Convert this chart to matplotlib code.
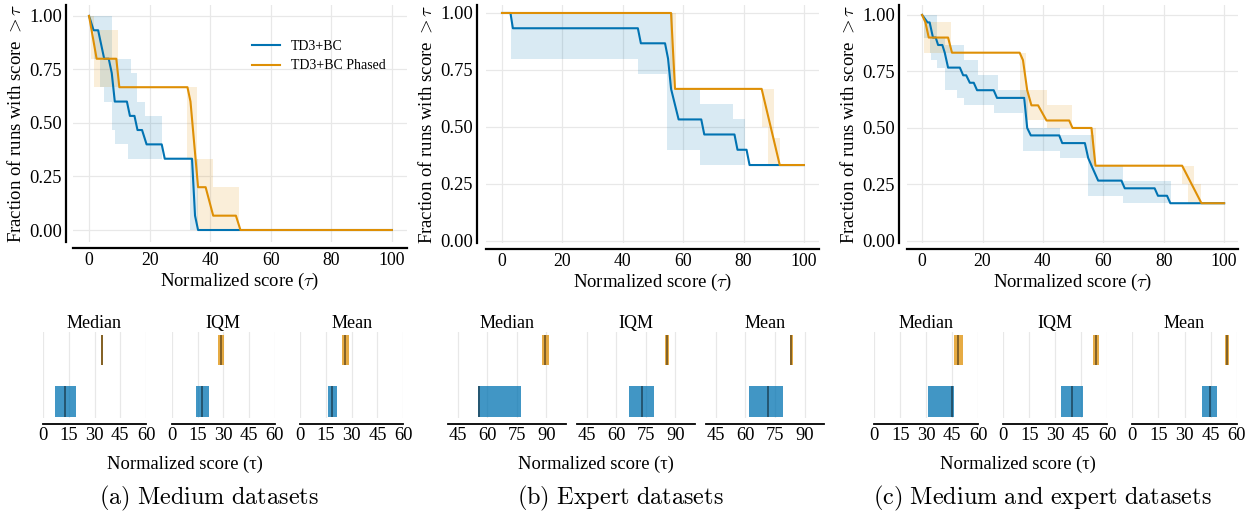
import matplotlib
matplotlib.use('Agg')
import matplotlib.pyplot as plt

plt.rcParams['font.family'] = ['Liberation Serif', 'DejaVu Serif']
plt.rcParams['mathtext.fontset'] = 'cm'

BLUE = '#0173B2'
ORANGE = '#DE8F05'
ALGOS = ['TD3+BC', 'TD3+BC Phased']

# ---------------- performance profiles (vertices) -------------
# (a) Medium datasets
med_td3_x = [0, 1.5, 3, 5, 6.5, 7.5, 8.5, 12.5, 13.5, 15, 16, 17.5, 19, 24, 25, 34, 35, 36, 100]
med_td3_y = [1.0, 0.933, 0.933, 0.8, 0.8, 0.733, 0.6, 0.6, 0.533, 0.533, 0.467, 0.467,
             0.4, 0.4, 0.333, 0.333, 0.067, 0.0, 0.0]
med_td3_band_x = [0.5, 1.5, 3.5, 5.0, 7.5, 8.5, 13.0, 14.0, 16.0, 18.5, 24.0, 33.5, 36.0]
med_td3_band_lo = [0.933, 0.8, 0.667, 0.6, 0.467, 0.4, 0.333, 0.333, 0.333, 0.333, 0.333, 0.0, 0.0]
med_td3_band_hi = [1.0, 1.0, 1.0, 1.0, 0.8, 0.8, 0.8, 0.733, 0.6, 0.533, 0.333, 0.333, 0.0]

med_ph_x = [0, 2.5, 9, 10, 32.5, 33.5, 36, 38.5, 41, 48.5, 50, 100]
med_ph_y = [1.0, 0.8, 0.8, 0.667, 0.667, 0.6, 0.2, 0.2, 0.067, 0.067, 0.0, 0.0]
med_ph_band_x = [0.5, 1.5, 9.5, 32.5, 35.5, 41.0, 49.5]
med_ph_band_lo = [0.8, 0.667, 0.667, 0.333, 0.0, 0.0, 0.0]
med_ph_band_hi = [1.0, 0.933, 0.667, 0.667, 0.333, 0.2, 0.0]

# (b) Expert datasets
exp_td3_x = [0, 2.8, 3.6, 45, 46, 54, 55, 56, 58.5, 66, 67, 77, 78, 81, 82, 100]
exp_td3_y = [1.0, 1.0, 0.933, 0.933, 0.867, 0.867, 0.8, 0.667, 0.533, 0.533, 0.467, 0.467,
             0.4, 0.4, 0.333, 0.333]
exp_td3_band_x = [3.0, 45.0, 54.5, 56.5, 65.5, 76.5, 80.5]
exp_td3_band_lo = [0.8, 0.733, 0.4, 0.4, 0.333, 0.333, 0.333]
exp_td3_band_hi = [1.0, 1.0, 1.0, 0.667, 0.6, 0.533, 0.333]

exp_ph_x = [0, 56, 57.3, 86, 92, 100]
exp_ph_y = [1.0, 1.0, 0.667, 0.667, 0.333, 0.333]
exp_ph_band_x = [55.5, 57.5, 86.0, 88.0, 90.0, 92.0]
exp_ph_band_lo = [0.667, 0.667, 0.5, 0.333, 0.333, 0.333]
exp_ph_band_hi = [1.0, 0.667, 0.667, 0.667, 0.45, 0.333]

# (c) Medium and expert datasets
all_td3_x = [0, 1.8, 2.5, 3.6, 4.5, 5.3, 6.7, 7.5, 8.6, 12.5, 13.6, 14.6, 15.8, 17.1, 18.2,
             23.7, 24.8, 33.8, 34.8, 36, 45.4, 46.4, 53.9, 55, 56.1, 58.3, 66, 67.1, 77,
             78.1, 81.1, 82.2, 100]
all_td3_y = [1.0, 0.967, 0.967, 0.9, 0.9, 0.867, 0.867, 0.833, 0.767, 0.767, 0.733, 0.733,
             0.7, 0.7, 0.667, 0.667, 0.633, 0.633, 0.5, 0.467, 0.467, 0.433, 0.433, 0.367,
             0.333, 0.267, 0.267, 0.233, 0.233, 0.2, 0.2, 0.167, 0.167]
all_td3_band_x = [0.5, 2.5, 3.0, 5.0, 7.5, 11.5, 14.0, 18.5, 23.7, 25.0, 33.5, 35.0, 45.5,
                  55.0, 57.0, 66.5, 82.5]
all_td3_band_lo = [0.9, 0.833, 0.8, 0.767, 0.667, 0.633, 0.6, 0.6, 0.567, 0.567, 0.4, 0.4,
                   0.367, 0.2, 0.2, 0.167, 0.167]
all_td3_band_hi = [1.0, 1.0, 1.0, 0.9, 0.867, 0.867, 0.8, 0.733, 0.733, 0.667, 0.667, 0.5,
                   0.467, 0.467, 0.333, 0.267, 0.167]

all_ph_x = [0, 1.1, 2.2, 8.6, 9.9, 32.3, 33.4, 34.8, 36.2, 38.4, 41.2, 48.7, 49.8, 56.1,
            57.4, 86.1, 92.5, 100]
all_ph_y = [1.0, 0.967, 0.9, 0.9, 0.833, 0.833, 0.8, 0.667, 0.6, 0.6, 0.533, 0.533, 0.5,
            0.5, 0.333, 0.333, 0.167, 0.167]
all_ph_band_x = [0.5, 9.5, 32.5, 34.5, 41.5, 49.5, 55.5, 57.5, 86.0, 88.0, 90.0, 92.5]
all_ph_band_lo = [0.833, 0.833, 0.633, 0.533, 0.5, 0.5, 0.333, 0.333, 0.25, 0.167, 0.167, 0.167]
all_ph_band_hi = [0.967, 0.833, 0.833, 0.667, 0.6, 0.5, 0.5, 0.333, 0.333, 0.333, 0.25, 0.167]

profile_xticks = [0, 20, 40, 60, 80, 100]
profile_yticks = [0.0, 0.25, 0.5, 0.75, 1.0]

# ---------------- aggregate interval estimates ----------------
metrics = ['Median', 'IQM', 'Mean']
med_td3_pt = [12.8, 17.8, 18.6]
med_td3_lo = [7.0, 14.1, 16.1]
med_td3_hi = [19.2, 21.7, 21.5]
med_ph_pt = [34.5, 28.5, 26.3]
med_ph_lo = [33.8, 27.1, 24.2]
med_ph_hi = [35.0, 30.2, 28.5]

exp_td3_pt = [56.0, 73.3, 71.4]
exp_td3_lo = [55.4, 66.6, 62.0]
exp_td3_hi = [77.4, 79.0, 78.9]
exp_ph_pt = [89.3, 85.8, 83.3]
exp_ph_lo = [87.6, 85.0, 82.6]
exp_ph_hi = [91.2, 86.7, 84.0]

all_td3_pt = [44.8, 39.8, 44.8]
all_td3_lo = [30.8, 33.3, 40.0]
all_td3_hi = [46.0, 45.8, 48.5]
all_ph_pt = [48.5, 53.3, 54.3]
all_ph_lo = [46.0, 51.8, 53.3]
all_ph_hi = [51.2, 55.2, 55.4]

ticks_0_60 = [0, 15, 30, 45, 60]
ticks_45_90 = [45, 60, 75, 90]

captions = ['(a) Medium datasets', '(b) Expert datasets', '(c) Medium and expert datasets']

# ---------------- figure ----------------
W, H = 1247, 516
fig = plt.figure(figsize=(W / 100, H / 100), dpi=100)


def add_ax(x0, y0, x1, y1):
    return fig.add_axes([x0 / W, 1 - y1 / H, (x1 - x0) / W, (y1 - y0) / H])


def px2pt(p):
    return p * 72 / 100


def top_panel(box, xlim, ylim, loff, boff, series, legend=False):
    ax = add_ax(*box)
    for x, y, bx, blo, bhi, color, label in series:
        ax.fill_between(bx, blo, bhi, step='post', color=color, alpha=0.15, lw=0)
    for x, y, bx, blo, bhi, color, label in series:
        ax.plot(x, y, color=color, lw=1.5, label=label)
    ax.set_xlim(*xlim)
    ax.set_ylim(*ylim)
    ax.set_xticks(profile_xticks)
    ax.set_yticks(profile_yticks)
    ax.set_yticklabels(['%.2f' % v for v in profile_yticks])
    ax.grid(True, color='#e8e8e8', lw=0.9)
    ax.set_axisbelow(True)
    for s in ['top', 'right']:
        ax.spines[s].set_visible(False)
    ax.spines['left'].set_position(('outward', px2pt(loff)))
    ax.spines['bottom'].set_position(('outward', px2pt(boff)))
    for s in ['left', 'bottom']:
        ax.spines[s].set_linewidth(1.6)
        ax.spines[s].set_color('black')
    ax.tick_params(axis='x', length=0, labelsize=12.8, pad=3)
    ax.tick_params(axis='y', length=0, labelsize=13.3, pad=3)
    ax.set_xlabel(r'Normalized score ($\tau$)', fontsize=13.5, labelpad=1)
    ax.set_ylabel(r'Fraction of runs with score $>\tau$', fontsize=13.5, labelpad=3)
    if legend:
        ax.legend(loc='upper left', bbox_to_anchor=(0.52, 0.875), frameon=False,
                  fontsize=10, handlelength=2.0, handletextpad=0.8, labelspacing=0.45,
                  borderaxespad=0)
    return ax


top_panel((73, 5, 407, 242), (-5.3, 105), (-0.056, 1.051), 7, 6, [
    (med_td3_x, med_td3_y, med_td3_band_x, med_td3_band_lo, med_td3_band_hi, BLUE, ALGOS[0]),
    (med_ph_x, med_ph_y, med_ph_band_x, med_ph_band_lo, med_ph_band_hi, ORANGE, ALGOS[1]),
], legend=True)
top_panel((486, 5, 819, 243), (-5.3, 105), (-0.009, 1.035), 9, 6, [
    (exp_td3_x, exp_td3_y, exp_td3_band_x, exp_td3_band_lo, exp_td3_band_hi, BLUE, ALGOS[0]),
    (exp_ph_x, exp_ph_y, exp_ph_band_x, exp_ph_band_lo, exp_ph_band_hi, ORANGE, ALGOS[1]),
])
top_panel((907, 5, 1238, 243), (-5.0, 104.6), (-0.009, 1.044), 8, 6, [
    (all_td3_x, all_td3_y, all_td3_band_x, all_td3_band_lo, all_td3_band_hi, BLUE, ALGOS[0]),
    (all_ph_x, all_ph_y, all_ph_band_x, all_ph_band_lo, all_ph_band_hi, ORANGE, ALGOS[1]),
])


def interval_panel(x0, x1, xlim, ticks, i, td3, ph):
    ax = add_ax(x0, 332, x1, 418)
    for yy, (pt, lo, hi), color in [(0, td3, BLUE), (1, ph, ORANGE)]:
        ax.barh(yy, width=hi[i] - lo[i], left=lo[i], height=0.6, color=color, alpha=0.75, lw=0)
        ax.vlines(pt[i], yy - 0.3, yy + 0.3, color='k', alpha=0.5, lw=1.2)
    ax.set_xlim(*xlim)
    ax.set_ylim(-0.32, 1.35)
    ax.set_xticks(ticks)
    ax.set_yticks([])
    ax.grid(True, axis='x', color='#e8e8e8', lw=0.9)
    ax.set_axisbelow(True)
    for s in ['top', 'right', 'left']:
        ax.spines[s].set_visible(False)
    ax.spines['bottom'].set_position(('outward', px2pt(6)))
    ax.spines['bottom'].set_linewidth(1.3)
    ax.tick_params(length=0, labelsize=13.3, pad=2)
    ax.set_title(metrics[i], fontsize=13, pad=3)
    return ax


med_td3 = (med_td3_pt, med_td3_lo, med_td3_hi)
med_ph = (med_ph_pt, med_ph_lo, med_ph_hi)
exp_td3 = (exp_td3_pt, exp_td3_lo, exp_td3_hi)
exp_ph = (exp_ph_pt, exp_ph_lo, exp_ph_hi)
all_td3 = (all_td3_pt, all_td3_lo, all_td3_hi)
all_ph = (all_ph_pt, all_ph_lo, all_ph_hi)

for i, (a, b) in enumerate([(43, 146), (171.7, 275), (300, 403.3)]):
    interval_panel(a, b, (0, 60), ticks_0_60, i, med_td3, med_ph)
for i, (a, b) in enumerate([(447.7, 566), (576.7, 695), (705.7, 824.3)]):
    interval_panel(a, b, (40, 100), ticks_45_90, i, exp_td3, exp_ph)
for i, (a, b) in enumerate([(874.3, 978.3), (1003.3, 1107.3), (1132.3, 1236.7)]):
    interval_panel(a, b, (0, 60), ticks_0_60, i, all_td3, all_ph)

for cx in [185, 596, 1018]:
    fig.text(cx / W, 1 - 464 / H, 'Normalized score (τ)', ha='center', va='center', fontsize=13.3)

for cx, cap in zip([209, 620, 1042], captions):
    fig.text(cx / W, 1 - 498 / H, r'$\mathrm{' + cap.replace(' ', r'\ ') + '}$',
             ha='center', va='center', fontsize=17.5)

fig.savefig('out.png', dpi=100)
